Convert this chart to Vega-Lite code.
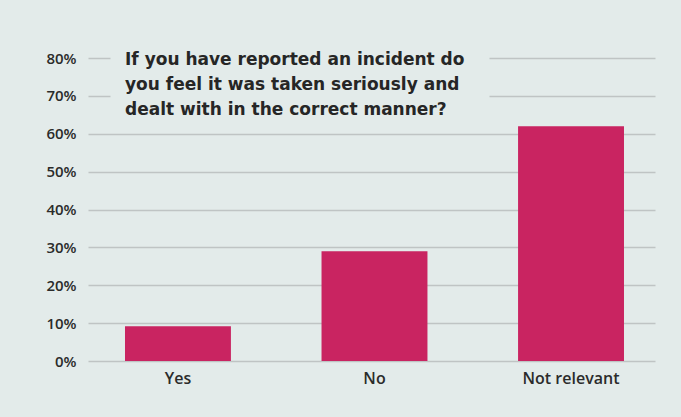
{
  "$schema": "https://vega.github.io/schema/vega-lite/v6.json",
  "autosize": "none",
  "width": 567,
  "height": 303,
  "padding": {"left": 88, "top": 58, "right": 26, "bottom": 56},
  "background": "#e3ebea",
  "title": {
    "text": ["If you have reported an incident do", "you feel it was taken seriously and", "dealt with in the correct manner?"],
    "anchor": "start",
    "frame": "group",
    "orient": "top",
    "baseline": "top",
    "offset": 0,
    "dx": 37,
    "dy": 68,
    "font": "DejaVu Sans",
    "fontSize": 17,
    "fontWeight": "bold",
    "color": "#262626",
    "lineHeight": 25
  },
  "config": {
    "view": {"stroke": null},
    "font": "Open Sans"
  },
  "data": {
    "values": [
      {"answer": "Yes", "share": 0.092},
      {"answer": "No", "share": 0.29},
      {"answer": "Not relevant", "share": 0.62}
    ]
  },
  "mark": {"type": "bar", "color": "#c92461"},
  "encoding": {
    "x": {
      "field": "answer",
      "type": "nominal",
      "sort": null,
      "scale": {"paddingInner": 0.461, "paddingOuter": 0.173, "align": 0.544},
      "axis": {
        "title": null,
        "labelAngle": 0,
        "domain": false,
        "ticks": false,
        "labelPadding": 9,
        "labelFontSize": 16,
        "labelFontWeight": 600,
        "labelColor": "#2b2b2b"
      }
    },
    "y": {
      "field": "share",
      "type": "quantitative",
      "scale": {"domain": [0, 0.8]},
      "axis": {
        "title": null,
        "format": ".0%",
        "values": [0, 0.1, 0.2, 0.3, 0.4, 0.5, 0.6, 0.7, 0.8],
        "domain": false,
        "ticks": false,
        "labelPadding": 12,
        "labelFontSize": 15,
        "labelFontWeight": 600,
        "labelColor": "#2b2b2b",
        "gridColor": "#bfc4c4",
        "gridWidth": 1.5,
        "gridDash": {"condition": {"test": "datum.value >= 0.65", "value": [22, 379, 200]}, "value": []}
      }
    }
  }
}
